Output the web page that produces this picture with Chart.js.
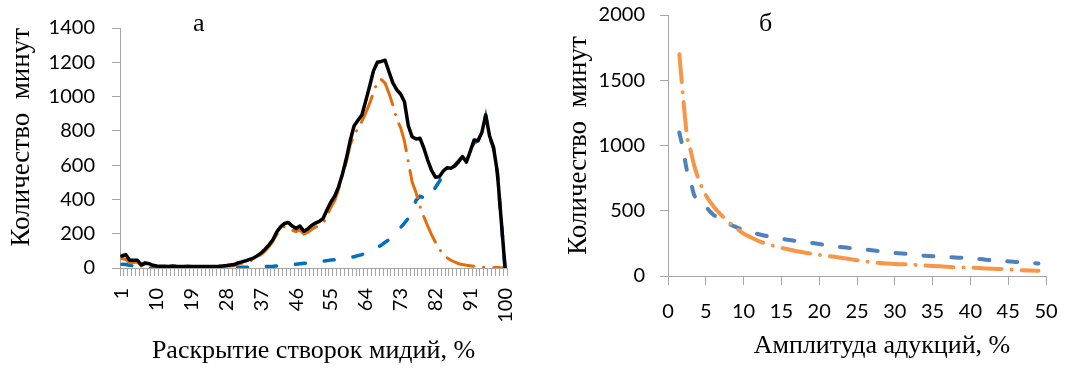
<!DOCTYPE html>
<html><head><meta charset="utf-8">
<script src="https://cdn.jsdelivr.net/npm/chart.js@4"></script>
<style>
html,body{margin:0;padding:0;background:#fff;}
#wrap{position:relative;width:1066px;height:371px;overflow:hidden;background:#fff;}
canvas{position:absolute;top:0;}
#cA{left:0;width:530px;height:371px;}
#cB{left:530px;width:536px;height:371px;}
.lab{position:absolute;font-family:'Liberation Serif','Times New Roman',serif;font-size:26px;line-height:26px;color:#000;white-space:nowrap;}
</style></head><body>
<div id="wrap">
<canvas id="cA" width="530" height="371"></canvas>
<canvas id="cB" width="536" height="371"></canvas>
<div class="lab" style="left:193px;top:10px">а</div>
<div class="lab" style="left:759px;top:10px">б</div>
<div class="lab" style="left:682px;top:332px;width:400px;text-align:center">Амплитуда адукций, %</div>
</div>
<script>
// ---- Chart "а": valve opening, % ----
const openingCategories = ['1','2','3','4','5','6','7','8','9','10','11','12','13','14','15','16','17','18','19','20',
'21','22','23','24','25','26','27','28','29','30','31','32','33','34','35','36','37','38','39','40',
'41','42','43','44','45','46','47','48','49','50','51','52','53','54','55','56','57','58','59','60',
'61','62','63','64','65','66','67','68','69','70','71','72','73','74','75','76','77','78','79','80',
'81','82','83','84','85','86','87','88','89','90','91','92','93','94','95','96','97','98','99','100'];
const totalMinutes = [70,78,45,45,45,18,30,25,16,12, 10,10,9,12,10,9,9,10,9,9,
9,9,9,9,9,10,12,14,17,20, 30,36,42,50,58,72,88,110,135,165,
210,240,260,265,245,230,245,215,228,248, 262,272,290,340,385,420,475,550,640,745,
830,862,893,975,1060,1150,1200,1205,1212,1145, 1080,1040,1015,970,830,765,752,757,700,630,
570,530,532,565,585,582,595,620,650,618, 680,747,742,790,893,770,705,560,280,0];
const orangeMinutes = [55,50,30,32,35,12,25,20,12,8, 6,6,5,7,6,5,5,5,5,5,
5,5,5,5,5,6,8,10,12,15, 22,28,34,40,48,62,80,100,125,155,
195,225,242,240,220,212,222,198,208,225, 238,248,262,305,355,395,460,545,620,720,
775,815,855,905,960,1025,1085,1100,1078,1020, 950,870,820,740,620,500,440,360,300,245,
195,150,110,80,60,45,35,25,20,16, 13,10,7,5,4,3,3,3,2,0];
const blueMinutes = [22,20,16,12,6,2,1,0,0,0, 0,0,0,0,0,0,0,0,0,0,
0,0,0,0,0,0,0,0,2,3, 4,5,5,5,5,6,7,8,9,10,
12,13,15,17,19,22,25,27,28,30, 32,35,40,43,46,48,50,53,56,60,
66,72,78,86,95,108,120,133,150,165, 185,210,235,262,290,330,395,418,410,400,
430,470,505,540,565,580,600,625,650,665, 690,730,742,790,885,765,700,555,275,0];
const leftYTicks = {min: 0, max: 1400, step: 200};

// ---- Chart "б": adduction amplitude, % ----
const amplitudeX = [1.5,2,2.5,3,3.5,4,5,6,7,8,9,10,11,12,14,16,18,20,22,24,26,28,30,32,34,36,38,40,42,44,46,48,49];
const amplitudeOrange = [1700,1370,1080,960,840,750,620,535,470,415,368,325,295,268,230,203,180,162,147,130,112,100,92,88,80,74,66,64,58,54,47,42,40];
const amplitudeBlue = [1100,970,810,720,615,590,530,470,432,400,375,352,335,320,295,276,262,245,228,215,203,190,176,168,155,150,142,136,125,116,108,100,96];
const rightYTicks = {min: 0, max: 2000, step: 500};
const rightXTicks = {min: 0, max: 50, step: 5};

const tickFont = {family: 'Lato', size: 20};
const xTitleFont = {family: "'Liberation Serif'", size: 26};
const yTitleFont = {family: "'Liberation Serif'", size: 27};
const axisGray = '#a6a6a6';
const plain = v => String(v);
function fixBox(w, h) {
  return function(s) {
    if (w !== null) s.width = w;
    if (h !== null) s.height = h;
    s.paddingLeft = 0; s.paddingRight = 0; s.paddingTop = 0; s.paddingBottom = 0;
  };
}

new Chart(document.getElementById('cA'), {
  type: 'line',
  data: {
    labels: openingCategories,
    datasets: [
      {data: totalMinutes, borderColor: '#000000', borderWidth: 3.5, borderCapStyle: 'round', borderJoinStyle: 'round'},
      {data: orangeMinutes, borderColor: '#E46C0A', borderWidth: 3, borderDash: [28,10,0.1,10], borderCapStyle: 'round'},
      {data: blueMinutes, borderColor: '#0070C0', borderWidth: 3.5, borderDash: [10,19], borderCapStyle: 'round'}
    ]
  },
  options: {
    responsive: false, animation: false, devicePixelRatio: 1,
    layout: {padding: {left: 0, top: 28, right: 23, bottom: 0}},
    plugins: {legend: {display: false}, tooltip: {enabled: false}, title: {display: false}},
    elements: {point: {radius: 0}, line: {tension: 0}},
    scales: {
      x: {
        type: 'category', offset: true,
        grid: {offset: true, drawOnChartArea: false, drawTicks: true, tickLength: 8, color: axisGray},
        border: {color: axisGray, width: 1},
        ticks: {autoSkip: false, minRotation: 90, maxRotation: 90, padding: 12, font: tickFont, color: '#000',
          callback: function(v, i) { return i % 9 === 0 ? openingCategories[i] : ''; }},
        title: {display: true, text: 'Раскрытие створок мидий, %', font: xTitleFont, color: '#000', padding: {top: 0, bottom: 4}},
        afterFit: fixBox(null, 103)
      },
      y: {
        min: leftYTicks.min, max: leftYTicks.max,
        grid: {drawOnChartArea: false, drawTicks: true, tickLength: 8, color: axisGray},
        border: {color: axisGray, width: 1},
        ticks: {stepSize: leftYTicks.step, padding: 17, font: tickFont, color: '#000', callback: plain},
        title: {display: true, text: 'Количество  минут', align: 'end', font: yTitleFont, color: '#000', padding: {top: 6, bottom: 0}},
        afterFit: fixBox(120, null)
      }
    }
  }
});

new Chart(document.getElementById('cB'), {
  type: 'line',
  data: {
    datasets: [
      {data: amplitudeX.map((x, i) => ({x: x, y: amplitudeOrange[i]})), borderColor: '#F79646', borderWidth: 4, borderDash: [28,10,0.1,10], borderCapStyle: 'round'},
      {data: amplitudeX.map((x, i) => ({x: x, y: amplitudeBlue[i]})), borderColor: '#4F81BD', borderWidth: 4, borderDash: [10,18], borderCapStyle: 'round'}
    ]
  },
  options: {
    responsive: false, animation: false, devicePixelRatio: 1,
    layout: {padding: {left: 0, top: 15, right: 20, bottom: 0}},
    plugins: {legend: {display: false}, tooltip: {enabled: false}},
    elements: {point: {radius: 0}, line: {tension: 0.3, cubicInterpolationMode: 'monotone'}},
    scales: {
      x: {
        type: 'linear', min: rightXTicks.min, max: rightXTicks.max,
        grid: {drawOnChartArea: false, drawTicks: true, tickLength: 9, color: axisGray},
        border: {color: axisGray, width: 1},
        ticks: {stepSize: rightXTicks.step, padding: 15, font: tickFont, color: '#000', maxRotation: 0, callback: plain},
        afterFit: fixBox(null, 95)
      },
      y: {
        min: rightYTicks.min, max: rightYTicks.max,
        grid: {drawOnChartArea: false, drawTicks: true, tickLength: 8, color: axisGray},
        border: {color: axisGray, width: 1},
        ticks: {stepSize: rightYTicks.step, padding: 15, font: tickFont, color: '#000', callback: plain},
        title: {display: true, text: 'Количество  минут', font: yTitleFont, color: '#000', padding: {top: 33, bottom: 0}},
        afterFit: fixBox(138, null)
      }
    }
  }
});
</script>
</body></html>
